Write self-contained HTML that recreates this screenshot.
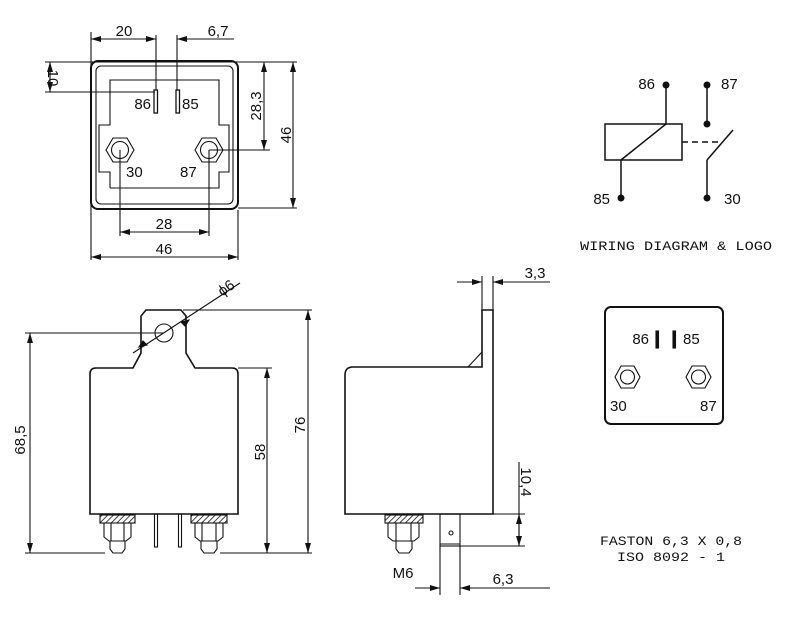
<!DOCTYPE html>
<html><head><meta charset="utf-8"><style>
html,body{margin:0;padding:0;background:#fff}
svg{display:block}
text{font-family:"Liberation Sans",sans-serif;font-size:15px;fill:#111}
.m{font-family:"Liberation Mono",monospace;font-size:13px}
</style></head><body>
<svg width="800" height="633" viewBox="0 0 800 633" xmlns="http://www.w3.org/2000/svg">
<defs>
<marker id="a" viewBox="0 0 10 6" refX="10" refY="3" markerWidth="10" markerHeight="6" orient="auto-start-reverse" markerUnits="userSpaceOnUse"><path d="M0,0 L10,3 L0,6 z" fill="#111"/></marker>
<pattern id="h" width="4" height="4" patternUnits="userSpaceOnUse" patternTransform="rotate(45)"><line x1="0" y1="0" x2="0" y2="4" stroke="#111" stroke-width="1.6"/></pattern>
</defs>
<g fill="none" stroke="#111" stroke-width="1.1">
<rect x="91" y="61" width="147" height="148" rx="7" stroke-width="2"/>
<rect x="96" y="66" width="137" height="138" rx="5"/>
<polyline points="110,188 110,172 99,172 99,125 110,125 110,80 219,80 219,125 229,125 229,172 219,172 219,188 110,188"/>
<rect x="154" y="90" width="3.5" height="23" stroke-width="1.3"/>
<rect x="176" y="90" width="3.5" height="23" stroke-width="1.3"/>
<polygon points="106,150 113,138 127,138 134,150 127,162 113,162"/>
<circle cx="120" cy="150" r="8.5"/>
<polygon points="195,150 202,138 216,138 223,150 216,162 202,162"/>
<circle cx="209" cy="150" r="8.5"/>
<line x1="91" y1="32" x2="91" y2="260"/>
<line x1="238" y1="210" x2="238" y2="260"/>
<line x1="156" y1="35" x2="156" y2="90"/>
<line x1="177" y1="35" x2="177" y2="90"/>
<line x1="91" y1="39" x2="156" y2="39" marker-start="url(#a)" marker-end="url(#a)"/>
<line x1="177" y1="39" x2="234" y2="39" marker-start="url(#a)"/>
<line x1="45" y1="62" x2="297" y2="62"/>
<line x1="45" y1="92" x2="155" y2="92"/>
<line x1="50" y1="62" x2="50" y2="92" marker-start="url(#a)" marker-end="url(#a)"/>
<line x1="209" y1="150" x2="270" y2="150"/>
<line x1="264" y1="62" x2="264" y2="150" marker-start="url(#a)" marker-end="url(#a)"/>
<line x1="238" y1="208" x2="297" y2="208"/>
<line x1="293" y1="62" x2="293" y2="208" marker-start="url(#a)" marker-end="url(#a)"/>
<line x1="120" y1="150" x2="120" y2="236"/>
<line x1="209" y1="150" x2="209" y2="236"/>
<line x1="120" y1="232" x2="209" y2="232" marker-start="url(#a)" marker-end="url(#a)"/>
<line x1="91" y1="257" x2="238" y2="257" marker-start="url(#a)" marker-end="url(#a)"/>

<path d="M141,353 L141,316 L146,310 L181,310 L186,316 L186,353 L195,368 L232,368 Q238,368 238,374 L238,514 L90,514 L90,374 Q90,368 96,368 L133,368 Z" stroke-width="1.6"/>
<circle cx="164" cy="333" r="9"/>
<line x1="133" y1="353" x2="240" y2="283"/>
<path d="M147,345 l-8,2 l4,-6 z M181,322 l8,-2 l-4,6 z" fill="#111"/>
<rect x="100" y="515" width="35" height="8" fill="url(#h)"/>
<path d="M104,523 L104,537 L109,541 L126,541 L131,537 L131,523 M111,523 L111,541 M124,523 L124,541 M110,541 L110,549 L113,553 L122,553 L125,549 L125,541"/>
<rect x="191" y="515" width="36" height="8" fill="url(#h)"/>
<path d="M195,523 L195,537 L200,541 L218,541 L223,537 L223,523 M202,523 L202,541 M216,523 L216,541 M201,541 L201,549 L204,553 L214,553 L217,549 L217,541"/>
<rect x="154.5" y="514" width="3" height="33"/>
<rect x="178.5" y="514" width="3" height="33"/>
<line x1="25" y1="333" x2="164" y2="333"/>
<line x1="25" y1="553" x2="105" y2="553"/>
<line x1="30" y1="333" x2="30" y2="553" marker-start="url(#a)" marker-end="url(#a)"/>
<line x1="238" y1="368" x2="272" y2="368"/>
<line x1="267" y1="368" x2="267" y2="553" marker-start="url(#a)" marker-end="url(#a)"/>
<line x1="183" y1="310" x2="312" y2="310"/>
<line x1="220" y1="553" x2="312" y2="553"/>
<line x1="308" y1="310" x2="308" y2="553" marker-start="url(#a)" marker-end="url(#a)"/>

<path d="M482,367 L482,310 L493,310 L493,514 L345,514 L345,375 Q345,367 353,367 Z" stroke-width="1.6"/>
<line x1="468" y1="367" x2="482" y2="352"/>
<line x1="482" y1="276" x2="482" y2="310"/>
<line x1="493" y1="276" x2="493" y2="310"/>
<line x1="457" y1="282" x2="482" y2="282" marker-end="url(#a)"/>
<line x1="550" y1="282" x2="493" y2="282" marker-end="url(#a)"/>
<rect x="385" y="515" width="38" height="8" fill="url(#h)"/>
<path d="M388,523 L388,537 L393,541 L414,541 L419,537 L419,523 M396,523 L396,541 M411,523 L411,541 M396,541 L396,549 L399,553 L409,553 L412,549 L412,541"/>
<rect x="440" y="514" width="20" height="32"/>
<line x1="440" y1="544" x2="460" y2="544"/>
<circle cx="451" cy="533" r="2"/>
<line x1="440" y1="546" x2="440" y2="595"/>
<line x1="460" y1="546" x2="460" y2="595"/>
<line x1="415" y1="588" x2="440" y2="588" marker-end="url(#a)"/>
<line x1="550" y1="588" x2="460" y2="588" marker-end="url(#a)"/>
<line x1="493" y1="514" x2="525" y2="514"/>
<line x1="460" y1="546" x2="525" y2="546"/>
<line x1="519" y1="462" x2="519" y2="546"/>
<line x1="519" y1="514" x2="519" y2="546" marker-start="url(#a)" marker-end="url(#a)"/>

<rect x="605" y="124" width="77" height="36" stroke-width="1.5"/>
<line x1="621" y1="160" x2="666" y2="124" stroke-width="1.5"/>
<line x1="666" y1="85" x2="666" y2="124" stroke-width="1.5"/>
<line x1="621" y1="160" x2="621" y2="198" stroke-width="1.5"/>
<line x1="707" y1="85" x2="707" y2="124" stroke-width="1.5"/>
<line x1="707" y1="198" x2="707" y2="160" stroke-width="1.5"/>
<line x1="707" y1="160" x2="733" y2="130" stroke-width="1.5"/>
<line x1="682" y1="142" x2="720" y2="142" stroke-width="1.5" stroke-dasharray="6,4"/>

<rect x="605" y="307" width="118" height="117" rx="6" stroke-width="2"/>
<rect x="656" y="331" width="2.5" height="17" fill="#111"/>
<rect x="673" y="331" width="2.5" height="17" fill="#111"/>
<polygon points="615,377 621,366 634,366 640,377 634,388 621,388"/>
<circle cx="627.5" cy="377" r="7"/>
<polygon points="686,377 692,366 705,366 711,377 705,388 692,388"/>
<circle cx="698.5" cy="377" r="7"/>
</g>
<g fill="#111">
<circle cx="666" cy="85" r="3.5"/><circle cx="621" cy="198" r="3.5"/>
<circle cx="707" cy="85" r="3.5"/><circle cx="707" cy="124" r="3.5"/><circle cx="707" cy="198" r="3.5"/>
</g>
<text x="124" y="36" text-anchor="middle">20</text>
<text x="218" y="36" text-anchor="middle">6,7</text>
<text transform="translate(48,78) rotate(90)" text-anchor="middle">10</text>
<text x="151" y="109" text-anchor="end">86</text>
<text x="182" y="109">85</text>
<text x="126" y="177">30</text>
<text x="180" y="177">87</text>
<text transform="translate(261,106) rotate(-90)" text-anchor="middle">28,3</text>
<text transform="translate(291,135) rotate(-90)" text-anchor="middle">46</text>
<text x="164" y="229" text-anchor="middle">28</text>
<text x="164" y="254" text-anchor="middle">46</text>
<text transform="translate(229,292) rotate(-35)" text-anchor="middle">ϕ6</text>
<text transform="translate(25,440) rotate(-90)" text-anchor="middle">68,5</text>
<text transform="translate(265,452) rotate(-90)" text-anchor="middle">58</text>
<text transform="translate(305,425) rotate(-90)" text-anchor="middle">76</text>
<text x="535" y="278" text-anchor="middle">3,3</text>
<text transform="translate(521,482) rotate(90)" text-anchor="middle">10,4</text>
<text x="403" y="578" text-anchor="middle">M6</text>
<text x="503" y="584" text-anchor="middle">6,3</text>
<text x="655" y="89" text-anchor="end">86</text>
<text x="721" y="89">87</text>
<text x="610" y="204" text-anchor="end">85</text>
<text x="724" y="204">30</text>
<text x="676" y="250" text-anchor="middle" class="m" textLength="192" lengthAdjust="spacingAndGlyphs">WIRING DIAGRAM &amp; LOGO</text>
<text x="649" y="344" text-anchor="end">86</text>
<text x="683" y="344">85</text>
<text x="610" y="411">30</text>
<text x="700" y="411">87</text>
<text x="671" y="545" text-anchor="middle" class="m" textLength="142" lengthAdjust="spacingAndGlyphs">FASTON 6,3 X 0,8</text>
<text x="671" y="561" text-anchor="middle" class="m" textLength="108" lengthAdjust="spacingAndGlyphs">ISO 8092 - 1</text>
</svg>
</body></html>
